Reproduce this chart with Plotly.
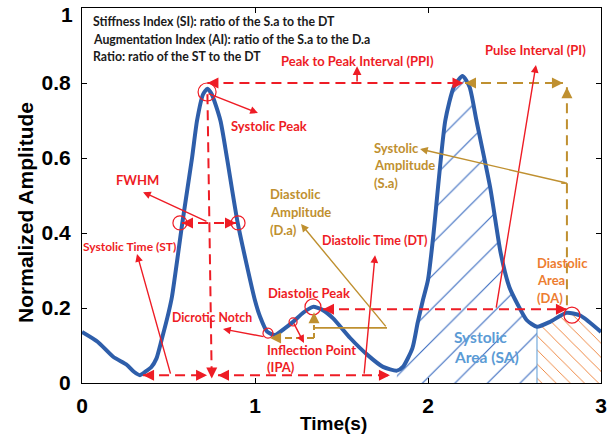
import plotly.graph_objects as go

# ---------------- data ----------------
time_s = [0.0, 0.09, 0.18, 0.26, 0.30, 0.335, 0.375, 0.40, 0.43, 0.46, 0.50, 0.52, 0.58,
          0.636, 0.665, 0.70, 0.725, 0.75, 0.80, 0.838, 0.90, 1.0, 1.03, 1.07, 1.115,
          1.17, 1.22, 1.28, 1.335, 1.39, 1.45, 1.55, 1.65, 1.74, 1.82, 1.855, 1.91,
          1.94, 1.97, 2.0, 2.03, 2.1, 2.15, 2.20, 2.24, 2.28, 2.36, 2.42, 2.47, 2.52,
          2.57, 2.63, 2.705, 2.80, 2.88, 3.0]
amplitude = [0.136, 0.11, 0.07, 0.048, 0.03, 0.021, 0.033, 0.042, 0.065, 0.115, 0.187, 0.23,
             0.427, 0.60, 0.70, 0.77, 0.785, 0.77, 0.70, 0.60, 0.427, 0.22, 0.176, 0.137,
             0.128, 0.145, 0.163, 0.188, 0.203, 0.195, 0.173, 0.12, 0.075, 0.043, 0.033,
             0.043, 0.093, 0.16, 0.22, 0.275, 0.39, 0.70, 0.79, 0.819, 0.79, 0.70, 0.52,
             0.347, 0.256, 0.208, 0.168, 0.15, 0.163, 0.187, 0.18, 0.136]

systolic_area_range = [1.82, 2.63]
diastolic_area_range = [2.63, 3.0]

x_tick_vals = [0, 1, 2, 3]
x_tick_text = ["0", "1", "2", "3"]
y_tick_vals = [0, 0.2, 0.4, 0.6, 0.8, 1]
y_tick_text = ["0", "0.2", "0.4", "0.6", "0.8", ""]   # top label "1" drawn below so it is not clipped
y_top_label = "1"

# ---------------- styles ----------------
RED = "#ee1c25"
GOLD = "#bf9030"
ORANGE = "#ed7d31"
LBLUE = "#5b9bd5"
BLUE = "#2e5eaa"
TXT_FONT = "Lato"
DASH = "10px,6px"

fig = go.Figure()


def subset(lo, hi):
    xs, ys = [], []
    for t, a in zip(time_s, amplitude):
        if lo <= t <= hi:
            xs.append(t)
            ys.append(a)
    return xs, ys


sx, sy = subset(*systolic_area_range)
fig.add_trace(go.Scatter(x=sx, y=sy, mode="lines", line=dict(width=0, shape="spline", smoothing=0.6),
                         fill="tozeroy", fillcolor="rgba(0,0,0,0)",
                         fillpattern=dict(shape="/", fgcolor="#3a6bc0", bgcolor="rgba(0,0,0,0)",
                                          fgopacity=1, size=23, solidity=0.05),
                         hoverinfo="skip", showlegend=False))
dx, dy = subset(*diastolic_area_range)
fig.add_trace(go.Scatter(x=dx, y=dy, mode="lines", line=dict(width=0, shape="spline", smoothing=0.6),
                         fill="tozeroy", fillcolor="rgba(0,0,0,0)",
                         fillpattern=dict(shape="\\", fgcolor=ORANGE, bgcolor="rgba(0,0,0,0)",
                                          fgopacity=1, size=10, solidity=0.09),
                         hoverinfo="skip", showlegend=False))
# boundary between areas
fig.add_trace(go.Scatter(x=[diastolic_area_range[0], diastolic_area_range[0]],
                         y=[0, dy[0]], mode="lines", line=dict(color=LBLUE, width=1),
                         hoverinfo="skip", showlegend=False))

fig.add_trace(go.Scatter(x=time_s, y=amplitude, mode="lines",
                         line=dict(color=BLUE, width=4, shape="spline", smoothing=0.6),
                         showlegend=False))


# ---------------- helpers ----------------
def seg(x0, y0, x1, y1, color, width=1.6, dash=None):
    fig.add_shape(type="line", xref="x", yref="y", x0=x0, y0=y0, x1=x1, y1=y1,
                  line=dict(color=color, width=width, dash=dash))


def head(x, y, ax, ay, color, width=1.6):
    fig.add_annotation(x=x, y=y, ax=ax, ay=ay, xref="x", yref="y", text="",
                       showarrow=True, arrowhead=2, arrowsize=1.1, arrowwidth=width,
                       arrowcolor=color, standoff=0)


def arrow(x0, y0, x1, y1, color, width=1.4):
    fig.add_annotation(x=x1, y=y1, ax=x0, ay=y0, xref="x", yref="y", axref="x", ayref="y",
                       text="", showarrow=True, arrowhead=2, arrowsize=1.1,
                       arrowwidth=width, arrowcolor=color, standoff=0)


def circle(x, y, r, color=RED):
    fig.add_shape(type="circle", xref="x", yref="y", xsizemode="pixel", ysizemode="pixel",
                  xanchor=x, yanchor=y, x0=-r, x1=r, y0=-r, y1=r,
                  line=dict(color=color, width=1.2))


def label(x, y, lines, color, size=12, anchor="center", spacing=0.046):
    for i, s in enumerate(lines):
        fig.add_annotation(x=x, y=y - i * spacing, xref="x", yref="y", text=s,
                           showarrow=False, xanchor=anchor, yanchor="middle",
                           font=dict(family=TXT_FONT, size=size, color=color, weight="bold"))


# ---------------- red dashed measurement lines ----------------
# PPI
seg(0.725, 0.80, 2.20, 0.80, RED, 2, DASH)
head(0.725, 0.80, 10, 0, RED, 2)
head(2.205, 0.80, -10, 0, RED, 2)
arrow(1.59, 0.80, 1.59, 0.845, RED, 1.6)
# vertical through systolic peak
seg(0.725, 0.77, 0.75, 0.012, RED, 2, DASH)
head(0.75, 0.012, 0, -10, RED, 2)
# FWHM
seg(0.578, 0.427, 0.89, 0.427, RED, 2, DASH)
head(0.578, 0.427, 9, 0, RED, 2)
head(0.89, 0.427, -9, 0, RED, 2)
# ST / DT base arrows
seg(0.353, 0.021, 0.723, 0.021, RED, 2, DASH)
head(0.353, 0.021, 10, 0, RED, 2)
head(0.723, 0.021, -10, 0, RED, 2)
seg(0.786, 0.021, 1.78, 0.021, RED, 2, DASH)
head(0.786, 0.021, 10, 0, RED, 2)
head(1.78, 0.021, -10, 0, RED, 2)
# diastolic peak -> diastolic area
seg(1.393, 0.197, 2.80, 0.197, RED, 2, DASH)
head(1.393, 0.197, 10, 0, RED, 2)
head(2.803, 0.197, -10, 0, RED, 2)

# ---------------- red pointer arrows ----------------
arrow(0.723, 0.773, 1.017, 0.72, RED)      # systolic peak
arrow(0.728, 0.429, 0.353, 0.509, RED)     # FWHM
arrow(0.514, 0.021, 0.318, 0.344, RED)     # ST
arrow(1.63, 0.021, 1.694, 0.341, RED)      # DT
arrow(1.058, 0.123, 0.815, 0.144, RED)     # dicrotic notch
arrow(1.22, 0.163, 1.283, 0.107, RED)      # inflection point
arrow(2.393, 0.197, 2.624, 0.848, RED)     # pulse interval

# ---------------- gold elements ----------------
seg(2.214, 0.80, 2.78, 0.80, GOLD, 2, DASH)
head(2.214, 0.80, 10, 0, GOLD, 2)
head(2.78, 0.80, -10, 0, GOLD, 2)
seg(2.803, 0.789, 2.803, 0.203, GOLD, 2, DASH)
head(2.803, 0.789, 0, 10, GOLD, 2)
arrow(2.803, 0.533, 1.954, 0.624, GOLD)    # S.a
seg(2.77, 0.533, 2.803, 0.533, GOLD, 1.6)
arrow(1.763, 0.147, 1.266, 0.424, GOLD)    # D.a
seg(1.341, 0.147, 1.763, 0.147, GOLD, 1.6)
seg(1.341, 0.12, 1.341, 0.18, GOLD, 2, "5px,3px")
head(1.341, 0.189, 0, 9, GOLD, 2)
seg(1.341, 0.12, 1.10, 0.12, GOLD, 2, "7px,4px")
head(1.087, 0.12, 10, 0, GOLD, 2)

# ---------------- circles ----------------
circle(0.723, 0.776, 9)
circle(0.566, 0.427, 7)
circle(0.902, 0.427, 7)
circle(1.075, 0.133, 5)
circle(1.22, 0.163, 4)
circle(1.335, 0.203, 8)
circle(2.832, 0.181, 8)

# ---------------- texts ----------------
DARK = "#1a1a1a"
label(0.052, 0.963, ["Stiffness Index (SI): ratio of the S.a to the DT"], DARK, 12.3, "left")
label(0.052, 0.917, ["Augmentation Index (AI): ratio of the S.a to the D.a"], DARK, 12.3, "left")
label(0.052, 0.872, ["Ratio: ratio of the ST to the DT"], DARK, 12.3, "left")
label(1.59, 0.859, ["Peak to Peak Interval (PPI)"], RED, 13)
label(2.624, 0.888, ["Pulse Interval (PI)"], RED, 13)
label(1.081, 0.685, ["Systolic Peak"], RED, 13)
label(0.318, 0.541, ["FWHM"], RED, 13)
label(0.272, 0.363, ["Systolic Time (ST)"], RED, 12)
label(1.075, 0.504, ["Diastolic", "Amplitude", "(D.a)"], GOLD, 13, "left", 0.048)
label(1.694, 0.379, ["Diastolic Time (DT)"], RED, 12.5)
label(1.312, 0.24, ["Diastolic Peak"], RED, 13)
label(0.751, 0.176, ["Dicrotic Notch"], RED, 12.3)
label(1.058, 0.088, ["Inflection Point", "(IPA)"], RED, 13, "left", 0.045)
label(1.676, 0.628, ["Systolic", "Amplitude", "(S.a)"], GOLD, 13, "left", 0.047)
label(2.618, 0.32, ["Diastolic", "Area", "(DA)"], ORANGE, 13, "left", 0.046)
label(2.14, 0.123, ["Systolic", "Area (SA)"], LBLUE, 15.5, "left", 0.054)

# axis titles and the top y tick label
axis_font = dict(family="Liberation Sans", size=21, color="black", weight="bold")
fig.add_annotation(x=0, y=1, xref="paper", yref="paper", text=y_top_label, showarrow=False,
                   xanchor="right", yanchor="top", xshift=-7, yshift=7, font=axis_font)
fig.add_annotation(x=-0.11, y=0.456, xref="paper", yref="paper", text="Normalized Amplitude",
                   textangle=-90, showarrow=False, xanchor="center", yanchor="middle",
                   font=axis_font)
fig.add_annotation(x=0.484, y=-0.107, xref="paper", yref="paper", text="Time(s)",
                   showarrow=False, xanchor="center", yanchor="middle",
                   font=dict(family="Liberation Sans", size=19, color="black", weight="bold"))

# ---------------- layout ----------------
fig.update_layout(
    width=611, height=437,
    margin=dict(l=82, r=10, t=8, b=54),
    plot_bgcolor="white", paper_bgcolor="white",
    showlegend=False,
    xaxis=dict(range=[0, 3], tickvals=x_tick_vals, ticktext=x_tick_text, automargin=False,
               showline=True, linecolor="black", linewidth=1, mirror="ticks",
               ticks="inside", ticklen=5, tickcolor="black", showgrid=False, zeroline=False,
               tickfont=axis_font, ticklabelstandoff=4, ticklabeloverflow="allow"),
    yaxis=dict(range=[0, 1], tickvals=y_tick_vals, ticktext=y_tick_text, automargin=False,
               showline=True, linecolor="black", linewidth=1, mirror="ticks",
               ticks="inside", ticklen=5, tickcolor="black", showgrid=False, zeroline=False,
               tickfont=axis_font, ticklabelstandoff=6, ticklabeloverflow="allow"),
)

fig.write_html("out.html", config={"displayModeBar": False},
               post_script="document.body.style.margin='0';document.body.style.overflow='hidden';")
